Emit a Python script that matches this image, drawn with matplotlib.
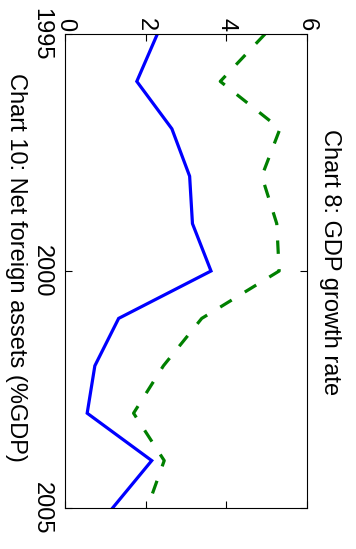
import numpy as np
import matplotlib
matplotlib.use("Agg")
import matplotlib.pyplot as plt

plt.rcParams['font.family'] = ['Liberation Sans', 'DejaVu Sans']

years = [1995, 1996, 1997, 1998, 1999, 2000, 2001, 2002, 2003, 2004, 2005]
nfa = [2.29, 1.78, 2.65, 3.09, 3.16, 3.62, 1.33, 0.74, 0.55, 2.15, 1.18]
gdp = [4.96, 3.85, 5.33, 4.88, 5.25, 5.31, 3.39, 2.44, 1.70, 2.46, 2.04]
val_ticks = [0, 2, 4, 6]
year_ticks = [1995, 2000, 2005]

W, H = 356, 549
fig = plt.figure(figsize=(W / 100, H / 100), dpi=100)
ax = fig.add_axes([65 / W, 1 - 508 / H, 242 / W, 474 / H])

# the chart is drawn turned a quarter-turn clockwise
ax.plot(nfa, years, color='blue', lw=2.3, solid_joinstyle='miter')
ax.plot(gdp, years, color='green', lw=2.3, linestyle=(0, (4.2, 4.8)))

ax.set_xlim(0, 6)
ax.set_ylim(2005, 1995)
ax.set_xticks(val_ticks)
ax.set_yticks(year_ticks)
ax.xaxis.tick_top()
ax.tick_params(direction='in', length=5, width=0.8, top=True, bottom=True,
               left=True, right=True, labelsize=17)
for t in ax.get_xticklabels():
    t.set_rotation(-90)
for t in ax.get_yticklabels():
    t.set_rotation(-90)
    t.set_va('center')
ax.tick_params(axis='x', pad=2)
ax.tick_params(axis='y', pad=9)

fig.text(330 / W, 1 - 262 / H, 'Chart 8: GDP growth rate', rotation=-90,
         ha='center', va='center', fontsize=17)
fig.text(16 / W, 1 - 267 / H, 'Chart 10: Net foreign assets (%GDP)', rotation=-90,
         ha='center', va='center', fontsize=17)

fig.savefig('out.png', dpi=100)
